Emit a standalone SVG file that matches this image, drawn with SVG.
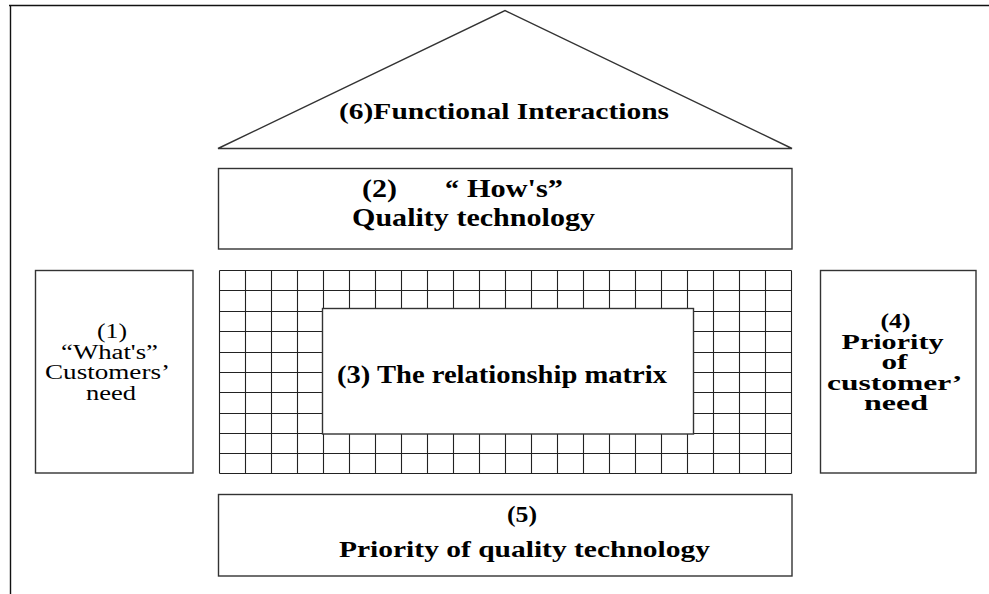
<svg xmlns="http://www.w3.org/2000/svg" width="989" height="594" viewBox="0 0 989 594">
  <style>
    .frame { fill: none; stroke: #111; stroke-width: 1.4; }
    .box { fill: #fff; stroke: #333; stroke-width: 1.4; }
    .grid { fill: none; stroke: #222; stroke-width: 1.1; }
    .tb { font-family: "Liberation Serif", "Times New Roman", serif; font-weight: bold; fill: #000; }
    .tr { font-family: "Liberation Serif", "Times New Roman", serif; font-weight: normal; fill: #000; }
  </style>

  <rect width="989" height="594" fill="#fff"/>

  <!-- page frame: top and left rules -->
  <path class="frame" d="M9,5.5 H989 M10.5,5 V594"/>

  <!-- (6) roof -->
  <g id="roof">
    <polygon class="box" points="218,148.5 505,10.5 792,148.5" fill="#fff"/>
    <text class="tb" x="339" y="118.5" font-size="24" textLength="330" lengthAdjust="spacingAndGlyphs">(6)Functional Interactions</text>
  </g>

  <!-- (2) hows -->
  <g id="hows">
    <rect class="box" x="218.5" y="168.5" width="573.5" height="80.5"/>
    <text class="tb" y="197" font-size="25">
      <tspan x="362" textLength="35" lengthAdjust="spacingAndGlyphs">(2)</tspan>
      <tspan x="445" textLength="14" lengthAdjust="spacingAndGlyphs">“</tspan>
      <tspan x="467" textLength="96" lengthAdjust="spacingAndGlyphs">How's”</tspan>
    </text>
    <text class="tb" x="352" y="226" font-size="25" textLength="243" lengthAdjust="spacingAndGlyphs">Quality technology</text>
  </g>

  <!-- (1) whats -->
  <g id="whats">
    <rect class="box" x="35.5" y="270.5" width="157.5" height="202.5"/>
    <text class="tr" x="97" y="338" font-size="20" textLength="30" lengthAdjust="spacingAndGlyphs">(1)</text>
    <text class="tr" x="61" y="358.5" font-size="20" textLength="97" lengthAdjust="spacingAndGlyphs">“What's”</text>
    <text class="tr" x="45" y="379" font-size="20" textLength="125" lengthAdjust="spacingAndGlyphs">Customers’</text>
    <text class="tr" x="86" y="399.5" font-size="20" textLength="50" lengthAdjust="spacingAndGlyphs">need</text>
  </g>

  <!-- (3) relationship matrix -->
  <g id="matrix">
    <path class="grid" d="M219.5,270.5 V473.5 M245.5,270.5 V473.5 M271.5,270.5 V473.5 M297.5,270.5 V473.5 M323.5,270.5 V473.5 M349.5,270.5 V473.5 M375.5,270.5 V473.5 M401.5,270.5 V473.5 M427.5,270.5 V473.5 M453.5,270.5 V473.5 M479.5,270.5 V473.5 M505.5,270.5 V473.5 M531.5,270.5 V473.5 M557.5,270.5 V473.5 M583.5,270.5 V473.5 M609.5,270.5 V473.5 M635.5,270.5 V473.5 M661.5,270.5 V473.5 M687.5,270.5 V473.5 M713.5,270.5 V473.5 M739.5,270.5 V473.5 M765.5,270.5 V473.5 M791.5,270.5 V473.5
      M219.5,270.5 H791.5 M219.5,290.5 H791.5 M219.5,311.5 H791.5 M219.5,331.5 H791.5 M219.5,352.5 H791.5 M219.5,372.5 H791.5 M219.5,392.5 H791.5 M219.5,413.5 H791.5 M219.5,433.5 H791.5 M219.5,453.5 H791.5 M219.5,473.5 H791.5"/>
    <rect class="box" x="322.5" y="308.5" width="371" height="125.5"/>
    <text class="tb" x="337" y="383" font-size="25" textLength="330" lengthAdjust="spacingAndGlyphs">(3) The relationship matrix</text>
  </g>

  <!-- (4) priority of customer need -->
  <g id="customer-priority">
    <rect class="box" x="820.5" y="270.5" width="155.5" height="202.5"/>
    <text class="tb" font-size="20" text-anchor="middle">
      <tspan x="898" y="328" textLength="30" lengthAdjust="spacingAndGlyphs">(4)</tspan>
      <tspan x="895" y="348.5" textLength="102" lengthAdjust="spacingAndGlyphs">Priority</tspan>
      <tspan x="897" y="369" textLength="26" lengthAdjust="spacingAndGlyphs">of</tspan>
      <tspan x="896" y="389.5" textLength="133" lengthAdjust="spacingAndGlyphs">customer’</tspan>
      <tspan x="896" y="410" textLength="64" lengthAdjust="spacingAndGlyphs">need</tspan>
    </text>
  </g>

  <!-- (5) priority of quality technology -->
  <g id="technology-priority">
    <rect class="box" x="218.5" y="494.5" width="573.5" height="81.5"/>
    <text class="tb" x="507" y="522" font-size="24" textLength="30" lengthAdjust="spacingAndGlyphs">(5)</text>
    <text class="tb" x="339" y="557" font-size="24" textLength="371" lengthAdjust="spacingAndGlyphs">Priority of quality technology</text>
  </g>
</svg>
